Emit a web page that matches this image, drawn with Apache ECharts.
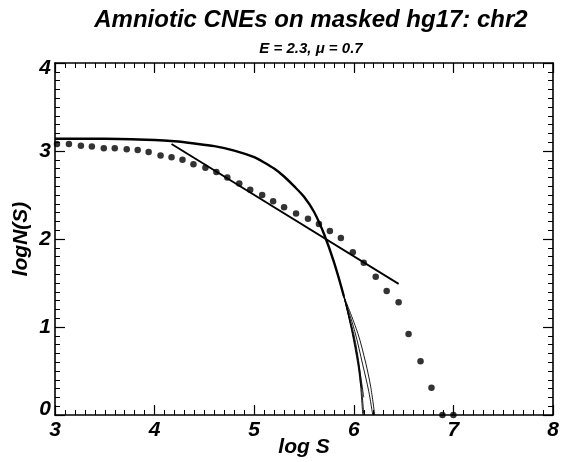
<!DOCTYPE html>
<html><head><meta charset="utf-8">
<script src="https://cdn.jsdelivr.net/npm/echarts@6/dist/echarts.min.js"></script>
<style>html,body{margin:0;padding:0;background:#fff}#c{width:566px;height:462px}</style>
</head><body><div id="c"></div>
<script>
// Observed points (log S, log N(S))
const dotX = [3.02,3.14,3.26,3.37,3.49,3.60,3.72,3.83,3.94,4.06,4.17,4.28,4.39,4.51,4.62,4.73,4.85,4.96,5.08,5.19,5.30,5.42,5.54,5.65,5.76,5.87,5.99,6.10,6.22,6.33,6.45,6.55,6.67,6.78,6.89,7.00];
const dotY = [3.08,3.08,3.06,3.05,3.03,3.03,3.02,3.01,2.99,2.95,2.93,2.90,2.85,2.81,2.76,2.70,2.63,2.56,2.50,2.43,2.36,2.29,2.23,2.17,2.09,2.01,1.85,1.73,1.57,1.41,1.28,0.92,0.61,0.31,0.00,0.00];
// Power-law fit line
const fitX = [4.17, 6.45];
const fitY = [3.08, 1.49];
// Model curve (shared upper part)
const curveX = [3.00,3.50,4.00,4.20,4.40,4.60,4.80,5.00,5.10,5.20,5.30,5.40,5.50,5.60,5.70,5.80,5.90];
const curveY = [3.14,3.14,3.125,3.11,3.085,3.055,3.005,2.93,2.87,2.80,2.71,2.60,2.48,2.31,2.06,1.74,1.35];
// Model curve fan (lower parts)
const fanX = [
  [5.90,5.99,6.05,6.09],
  [5.90,6.00,6.06,6.10],
  [5.90,6.01,6.09,6.15,6.19],
  [5.90,6.04,6.12,6.17,6.21],
  [5.90,5.98,6.04,6.07],
  [5.90,5.99,6.06,6.10]
];
const fanY = [
  [1.35,0.93,0.55,0.00],
  [1.35,0.92,0.52,0.00],
  [1.35,0.95,0.57,0.27,0.00],
  [1.35,0.93,0.59,0.32,0.00],
  [1.35,0.95,0.58,0.33],
  [1.35,0.92,0.50,0.20]
];
const xTicks = [3,4,5,6,7,8];
const yTicks = [0,1,2,3,4];

const zip = (a,b)=>a.map((v,i)=>[v,b[i]]);
const FF = 'Liberation Sans, Arial, sans-serif';
const labelFont = {fontFamily:FF,fontWeight:'bold',fontStyle:'italic',fontSize:21,color:'#000'};
function xAx(pos, show){
  return {type:'value',position:pos,min:xTicks[0],max:xTicks[xTicks.length-1],interval:1,
    axisLine:{show:true,onZero:false,lineStyle:{color:'#000',width:1.6}},
    axisTick:{show:true,inside:true,length:10,lineStyle:{color:'#000',width:1.2}},
    minorTick:{show:true,splitNumber:10,length:5,lineStyle:{color:'#000',width:1}},
    splitLine:{show:false},
    axisLabel:Object.assign({show:show,margin:5},labelFont),
    name: show?'log S':'', nameLocation:'middle', nameGap:22, nameMoveOverlap:false,
    nameTextStyle:Object.assign({},labelFont)};
}
function yAx(pos, show){
  return {type:'value',position:pos,min:yTicks[0],max:yTicks[yTicks.length-1],interval:1,
    axisLine:{show:true,onZero:false,lineStyle:{color:'#000',width:1.6}},
    axisTick:{show:true,inside:true,length:10,lineStyle:{color:'#000',width:1.2}},
    minorTick:{show:true,splitNumber:10,length:5,lineStyle:{color:'#000',width:1}},
    splitLine:{show:false},
    axisLabel:Object.assign({show:show,margin:4,
      formatter:function(v){ if(v===0) return '{lo|0}'; if(v===4) return '{hi|4}'; return String(v);},
      rich:{lo:Object.assign({},labelFont,{padding:[0,0,12,0]}),hi:Object.assign({},labelFont,{padding:[10,0,0,0]})}},labelFont),
    name: show?'logN(S)':'', nameLocation:'middle', nameGap:23, nameRotate:90, nameMoveOverlap:false,
    nameTextStyle:Object.assign({},labelFont)};
}
const series = [
  {type:'scatter',data:zip(dotX,dotY),symbol:'circle',symbolSize:6.5,itemStyle:{color:'#000'},silent:true},
  {type:'line',data:zip(fitX,fitY),symbol:'none',lineStyle:{color:'#000',width:1.8}},
  {type:'line',data:zip(curveX,curveY),symbol:'none',smooth:0.3,lineStyle:{color:'#000',width:2.4}}
];
fanX.forEach((xs,i)=>series.push({type:'line',data:zip(xs,fanY[i]),symbol:'none',smooth:0.3,lineStyle:{color:'#000',width:0.9}}));

const chart = echarts.init(document.getElementById('c'),null,{renderer:'canvas'});
chart.setOption({
  animation:false,
  backgroundColor:'#fff',
  title:[
    {text:'Amniotic CNEs on masked hg17: chr2',left:306,top:3,textAlign:'center',
     textStyle:{fontFamily:FF,fontWeight:'bold',fontStyle:'italic',fontSize:24,color:'#000'}},
    {text:'E = 2.3, μ = 0.7',left:306,top:36,textAlign:'center',
     textStyle:{fontFamily:FF,fontWeight:'bold',fontStyle:'italic',fontSize:15,color:'#000'}}
  ],
  grid:{left:55,right:13,top:63,bottom:47,containLabel:false,outerBoundsMode:'none'},
  xAxis:[xAx('bottom',true),xAx('top',false)],
  yAxis:[yAx('left',true),yAx('right',false)],
  series:series
});
</script>
</body></html>
